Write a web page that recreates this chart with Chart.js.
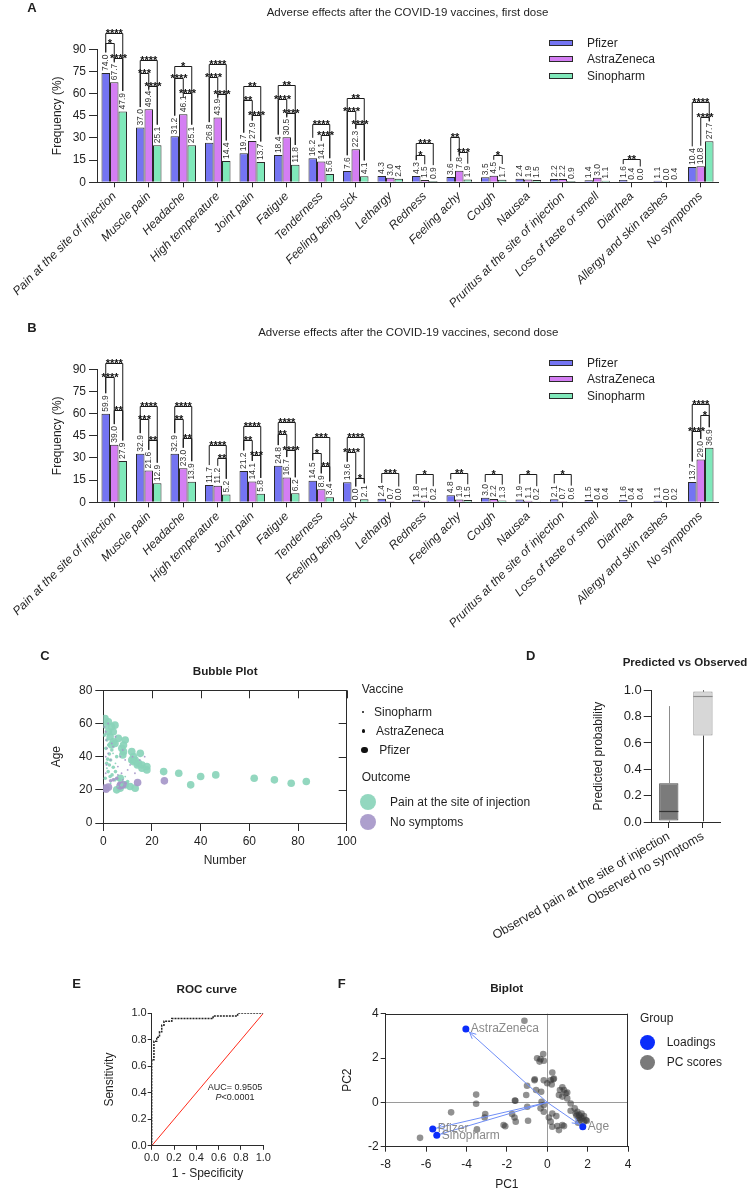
<!DOCTYPE html>
<html lang="en">
<head>
<meta charset="utf-8">
<title>Adverse effects after COVID-19 vaccines</title>
<script src="https://cdn.jsdelivr.net/npm/chart.js"></script>
<style>
    body { margin: 0; width: 750px; height: 1192px; position: relative; overflow: hidden; background: #fff;
           font-family: "Liberation Sans", Arial, sans-serif; color: #1f1f1f; }
    canvas { position: absolute; }
    .txt { position: absolute; white-space: nowrap; line-height: 1; }
    .mark { position: absolute; }
</style>
</head>
<body>
<script>
    // ---- data ----
    var symptoms = ['Pain at the site of injection', 'Muscle pain', 'Headache', 'High temperature', 'Joint pain',
        'Fatigue', 'Tenderness', 'Feeling being sick', 'Lethargy', 'Redness', 'Feeling achy', 'Cough', 'Nausea',
        'Pruritus at the site of injection', 'Loss of taste or smell', 'Diarrhea', 'Allergy and skin rashes', 'No symptoms'];
    var vaccines = ['Pfizer', 'AstraZeneca', 'Sinopharm'];

    var firstPfizer = [74.0, 37.0, 31.2, 26.8, 19.7, 18.4, 16.2, 7.6, 4.3, 4.3, 3.6, 3.5, 2.4, 2.2, 1.4, 1.6, 1.1, 10.4];
    var firstAstra  = [67.7, 49.4, 46.1, 43.9, 27.9, 30.5, 14.1, 22.3, 3.0, 1.5, 7.8, 4.5, 1.9, 2.2, 3.0, 0.4, 0.0, 10.8];
    var firstSino   = [47.9, 25.1, 25.1, 14.4, 13.7, 11.8, 5.6, 4.1, 2.4, 0.9, 1.9, 1.7, 1.5, 0.9, 1.1, 0.0, 0.4, 27.7];

    var secondPfizer = [59.9, 32.9, 32.9, 11.7, 21.2, 24.8, 14.5, 13.6, 2.4, 1.8, 4.8, 3.0, 1.9, 2.1, 1.5, 1.6, 1.1, 13.7];
    var secondAstra  = [39.0, 21.6, 23.0, 11.2, 14.1, 16.7, 8.9, 0.0, 0.7, 1.1, 1.9, 2.2, 1.1, 0.7, 0.4, 0.4, 0.0, 29.0];
    var secondSino   = [27.9, 12.9, 13.9, 5.2, 5.8, 6.2, 3.4, 2.1, 0.0, 0.2, 1.5, 1.3, 0.2, 0.6, 0.4, 0.4, 0.2, 36.9];

    // significance: [symptom index, from vaccine, to vaccine, height (%), stars]
    var firstStars = [
        [0, 0, 2, 101, '****'], [0, 0, 1, 94, '*'], [0, 1, 2, 84, '****'],
        [1, 0, 2, 82.6, '****'], [1, 0, 1, 74, '***'], [1, 1, 2, 65, '****'],
        [2, 0, 2, 78.6, '*'], [2, 0, 1, 70.3, '****'], [2, 1, 2, 60.1, '****'],
        [3, 0, 2, 80, '****'], [3, 0, 1, 71, '****'], [3, 1, 2, 59.7, '****'],
        [4, 0, 2, 65, '**'], [4, 0, 1, 55.6, '**'], [4, 1, 2, 45.5, '****'],
        [5, 0, 2, 65.7, '**'], [5, 0, 1, 56.7, '****'], [5, 1, 2, 46.6, '****'],
        [6, 0, 2, 39.4, '****'], [6, 1, 2, 32, '****'],
        [7, 0, 2, 57.2, '**'], [7, 0, 1, 48.2, '****'], [7, 1, 2, 39.4, '****'],
        [9, 0, 2, 26.3, '***'], [9, 0, 1, 18.4, '*'],
        [10, 0, 1, 30.4, '**'], [10, 1, 2, 20.7, '***'],
        [11, 1, 2, 18.4, '*'],
        [15, 0, 2, 15.5, '**'],
        [17, 0, 2, 54.5, '****'], [17, 1, 2, 44.3, '****']
    ];
    var secondStars = [
        [0, 0, 2, 94.2, '****'], [0, 0, 1, 84.5, '****'], [0, 1, 2, 62.6, '**'],
        [1, 0, 2, 65.3, '****'], [1, 0, 1, 56.3, '***'], [1, 1, 2, 42.4, '**'],
        [2, 0, 2, 65.3, '****'], [2, 0, 1, 56.3, '**'], [2, 1, 2, 43.5, '**'],
        [3, 0, 2, 39, '****'], [3, 1, 2, 30, '**'],
        [4, 0, 2, 51.4, '****'], [4, 0, 1, 42.4, '**'], [4, 1, 2, 32.2, '***'],
        [5, 0, 2, 54.5, '****'], [5, 0, 1, 46.4, '**'], [5, 1, 2, 35.6, '****'],
        [6, 0, 2, 44, '***'], [6, 0, 1, 33.4, '*'], [6, 1, 2, 24.3, '**'],
        [7, 0, 2, 44, '****'], [7, 0, 1, 34, '****'], [7, 1, 2, 16.5, '*'],
        [8, 0, 2, 19.8, '***'], [9, 0, 2, 19, '*'], [10, 0, 2, 19.8, '**'], [11, 0, 2, 19, '*'],
        [12, 0, 2, 19, '*'], [13, 0, 2, 19, '*'],
        [17, 0, 2, 66.7, '****'], [17, 1, 2, 59.3, '*'], [17, 0, 1, 48, '****']
    ];

    // bubble plot: [number, age]
    var bubblePfizerPain = [[0.7, 63], [2.1, 61], [1.1, 59], [3.4, 58], [4.8, 59], [2.1, 55], [4.1, 55], [2.8, 52],
        [6.2, 51], [4.1, 49], [3.4, 47], [4.8, 48], [9, 50], [8.3, 47], [7.6, 45], [8.3, 43], [8, 41], [11.7, 43],
        [12.4, 40], [11.7, 38], [13.1, 38], [15.2, 42], [14.5, 36], [15.9, 35], [15.9, 33], [17.9, 34], [17.9, 32],
        [24.8, 31], [31, 30], [35.9, 23], [40, 28], [46.2, 29], [62, 27], [70.3, 26], [77.2, 24], [83.4, 25],
        [11, 22], [13.1, 21], [5.5, 20], [6.9, 21], [9, 23], [7, 27], [12.4, 37], [14, 35]];
    var bubbleAstraPain = [[1.1, 45], [2.5, 41.6], [3, 38], [1.4, 36], [4.1, 33.6], [2, 31], [4.8, 26], [6.6, 26],
        [2.8, 28], [1.5, 50], [0.5, 53], [3.5, 44], [5.5, 40], [1.8, 38.5], [2.5, 35], [5, 31], [3.6, 29], [7.5, 23],
        [8.8, 24], [10, 25], [0.8, 27], [2.2, 47]];
    var bubbleSinoPain = [[3, 24], [6, 22], [9, 28], [1.5, 33], [5, 36], [4, 42]];
    var bubblePfizerNone = [[1.1, 20.4], [2.1, 21.6], [6.9, 22.4], [8, 23], [14.1, 24.4], [25.1, 25.4], [0.5, 21]];
    var bubbleAstraNone = [[4.1, 26], [5.5, 27], [3, 25.5], [6.5, 24], [9, 24]];
    var bubbleSinoNone = [[1, 55], [1.2, 50], [1.5, 45], [1, 40], [1.3, 35], [1, 30], [2, 42], [3, 38], [4, 46],
        [5, 52], [6, 34], [7, 40], [8, 44], [9, 38], [10, 32], [11, 35], [12, 40], [13, 30], [15, 38], [17, 40],
        [0.5, 58], [2, 60], [3.5, 48], [6, 29], [7.5, 30], [8, 26]];

    // box plot (predicted probability)
    var boxGroups = ['Observed pain at the site of injection', 'Observed no symptoms'];
    var boxMin = [0.0, 0.005];
    var boxQ1 = [0.012, 0.656];
    var boxMedian = [0.085, 0.957];
    var boxQ3 = [0.295, 0.99];
    var boxMax = [0.88, 1.0];

    // ROC curve
    var rocFpr = [0, 0, 0.02, 0.02, 0.045, 0.045, 0.07, 0.07, 0.09, 0.09, 0.11, 0.11, 0.18, 0.18, 0.55, 0.55, 0.77, 0.77, 1];
    var rocTpr = [0, 0.65, 0.65, 0.79, 0.79, 0.82, 0.82, 0.86, 0.86, 0.91, 0.91, 0.94, 0.94, 0.96, 0.96, 0.98, 0.98, 1, 1];
    var chanceLine = [0, 1];

    // biplot
    var loadingNames = ['AstraZeneca', 'Pfizer', 'Sinopharm', 'Age'];
    var loadingPC1 = [-4.03, -5.67, -5.47, 1.76];
    var loadingPC2 = [3.31, -1.2, -1.48, -1.1];
    var pcScores = [[-6.3, -1.6], [-4.76, -0.45], [-3.52, 0.35], [-3.52, -0.06], [-3.07, -0.53], [-3.1, -0.68],
        [-3.48, -1.22], [-2.16, -1.02], [-2.08, -1.08], [-1.74, -0.53], [-1.62, -0.68], [-1.56, -0.87], [-1.6, 0.08],
        [-0.95, -0.83], [-1.04, 0.33], [-1.0, 0.75], [-0.99, -0.2], [-0.63, 1.0], [-0.55, 0.56], [-0.3, 0.48],
        [-0.5, 1.99], [-0.33, 1.95], [-0.2, 2.18], [-0.38, 1.84], [-0.17, 1.88], [-0.28, 0.03], [-0.17, -0.12],
        [-0.33, -0.27], [-0.17, -0.42], [0.17, -0.87], [0.08, -0.68], [0.25, -0.5], [0.45, -0.62], [0.17, 1.0],
        [0.3, 1.04], [0.25, 1.35], [-0.17, 1.0], [0.0, 0.86], [0.22, 0.81], [0.5, -1.07], [0.58, -1.25], [0.83, -1.07],
        [0.63, 0.56], [0.75, 0.68], [0.58, 0.33], [0.75, 0.26], [0.91, 0.41], [0.99, 0.18], [1.16, -0.05], [0.99, 0.44],
        [0.83, 0.56], [1.16, -0.38], [1.36, -0.27], [1.41, -0.5], [1.49, -0.42], [1.58, -0.57], [1.66, -0.65],
        [1.74, -0.72], [1.82, -0.62], [1.62, -0.8], [1.82, -0.87], [1.91, -0.8], [1.53, -0.92], [1.96, -0.83],
        [0.75, -1.02], [0.25, -1.1], [-1.13, 3.68], [-0.62, 1.04], [0.33, 1.08], [-1.58, 0.07], [1.7, -0.5],
        [1.55, -0.7], [1.45, -0.6]];

    // ---- styling ----
    var FONT = '"Liberation Sans", Arial, sans-serif';
    var AXIS = '#2b2b2b';
    var vaccineColors = ['#7474f2', '#d47ef3', '#7fe8ba'];
    var mint = 'rgba(138, 212, 186, 0.92)';
    var lilac = 'rgba(166, 151, 201, 0.92)';
    var LABEL_FONT = '8.5px ' + FONT;

    Chart.defaults.font.family = FONT;
    Chart.defaults.color = '#1f1f1f';
    Chart.defaults.animation = false;
    Chart.defaults.events = [];
    Chart.defaults.plugins.legend.display = false;
    Chart.defaults.plugins.tooltip.enabled = false;

    function makeCanvas(left, top, w, h) {
        var c = document.createElement('canvas');
        c.width = w; c.height = h;
        c.style.left = left + 'px'; c.style.top = top + 'px';
        c.style.width = w + 'px'; c.style.height = h + 'px';
        document.body.appendChild(c);
        return c;
    }
    function fixW(w) { return function (s) { s.width = w; s.paddingTop = 0; s.paddingBottom = 0; }; }
    function fixH(h) { return function (s) { s.height = h; s.paddingLeft = 0; s.paddingRight = 0; }; }
    function put(html, x, y, css, centered) {
        var d = document.createElement('div');
        d.className = 'txt';
        d.innerHTML = html;
        d.style.cssText = 'left:' + x + 'px;top:' + y + 'px;' + (css || '') +
            ';transform:' + (centered ? 'translate(-50%,-50%)' : 'translate(0,-50%)');
        document.body.appendChild(d);
    }
    function dot(cx, cy, r, color) {
        var d = document.createElement('div');
        d.className = 'mark';
        d.style.cssText = 'left:' + (cx - r) + 'px;top:' + (cy - r) + 'px;width:' + (2 * r) + 'px;height:' + (2 * r) +
            'px;border-radius:50%;background:' + color;
        document.body.appendChild(d);
    }

    // ---- panels A and B ----
    function valueLabels(values) {
        return {
            id: 'valueLabels',
            afterDatasetsDraw: function (chart) {
                var ctx = chart.ctx;
                ctx.save();
                ctx.font = LABEL_FONT;
                ctx.fillStyle = '#333';
                ctx.textAlign = 'left';
                ctx.textBaseline = 'middle';
                values.forEach(function (vals, k) {
                    chart.getDatasetMeta(k).data.forEach(function (bar, i) {
                        ctx.save();
                        ctx.translate(bar.x, bar.y - 2);
                        ctx.rotate(-Math.PI / 2);
                        ctx.fillText(vals[i].toFixed(1), 0, 0);
                        ctx.restore();
                    });
                });
                ctx.restore();
            }
        };
    }

    function sigBrackets(list, values) {
        return {
            id: 'sigBrackets',
            afterDatasetsDraw: function (chart) {
                var ctx = chart.ctx, ys = chart.scales.y;
                ctx.save();
                ctx.font = LABEL_FONT;
                function legEnd(k, c) {
                    var bar = chart.getDatasetMeta(k).data[c];
                    return bar.y - 2 - ctx.measureText(values[k][c].toFixed(1)).width - 2;
                }
                var drawn = list.map(function (b) {
                    var c = b[0];
                    var xa = chart.getDatasetMeta(b[1]).data[c].x;
                    var xb = chart.getDatasetMeta(b[2]).data[c].x;
                    var py = Math.round(ys.getPixelForValue(b[3])) + 0.5;
                    return { xa: xa, xb: xb, py: py, ya: Math.max(py + 4, legEnd(b[1], c)), yb: Math.max(py + 4, legEnd(b[2], c)), s: b[4] };
                });
                ctx.strokeStyle = '#1a1a1a';
                ctx.lineWidth = 1;
                drawn.forEach(function (d) {
                    ctx.beginPath();
                    ctx.moveTo(d.xa, d.ya);
                    ctx.lineTo(d.xa, d.py);
                    ctx.lineTo(d.xb, d.py);
                    ctx.lineTo(d.xb, d.yb);
                    ctx.stroke();
                });
                ctx.font = 'bold 11px ' + FONT;
                ctx.fillStyle = '#111';
                ctx.textAlign = 'center';
                ctx.textBaseline = 'alphabetic';
                drawn.forEach(function (d) {
                    ctx.fillText(d.s, (d.xa + d.xb) / 2, d.py + 3.5);
                });
                ctx.restore();
            }
        };
    }

    function doseChart(top, values, stars) {
        return new Chart(makeCanvas(0, top, 750, 322), {
            type: 'bar',
            data: {
                labels: symptoms,
                datasets: vaccines.map(function (v, k) {
                    return {
                        label: v, data: values[k], backgroundColor: vaccineColors[k], borderColor: '#2a2a2a',
                        borderWidth: 1, categoryPercentage: 0.74, barPercentage: 1
                    };
                })
            },
            options: {
                responsive: false,
                layout: { padding: { left: 50, top: 49.3, right: 32, bottom: 9.7 } },
                scales: {
                    x: {
                        grid: { drawOnChartArea: false, offset: false, tickLength: 5, color: AXIS },
                        border: { color: AXIS },
                        ticks: { autoSkip: false, minRotation: 45, maxRotation: 45, padding: 2, font: { size: 12, style: 'italic' } },
                        afterFit: fixH(130)
                    },
                    y: {
                        min: 0, max: 90,
                        grid: { drawOnChartArea: false, tickLength: 8, color: AXIS },
                        border: { color: AXIS },
                        ticks: { stepSize: 15, padding: 3, font: { size: 12 } },
                        title: { display: true, text: 'Frequency (%)', font: { size: 12 }, padding: 0 },
                        afterFit: fixW(47)
                    }
                }
            },
            plugins: [valueLabels(values), sigBrackets(stars, values)]
        });
    }

    doseChart(0, [firstPfizer, firstAstra, firstSino], firstStars);
    doseChart(320, [secondPfizer, secondAstra, secondSino], secondStars);

    // ---- panel C: bubble plot ----
    function boxFrame(inward) {
        return {
            id: 'boxFrame',
            afterDraw: function (chart) {
                var a = chart.chartArea, ctx = chart.ctx, xs = chart.scales.x, ys = chart.scales.y;
                ctx.save();
                ctx.strokeStyle = AXIS;
                ctx.lineWidth = 1;
                ctx.beginPath();
                ctx.moveTo(a.left, Math.round(a.top) + 0.5);
                ctx.lineTo(a.right, Math.round(a.top) + 0.5);
                ctx.moveTo(Math.round(a.right) - 0.5, a.top);
                ctx.lineTo(Math.round(a.right) - 0.5, a.bottom);
                if (inward) {
                    xs.ticks.forEach(function (t) {
                        var px = Math.round(xs.getPixelForValue(t.value)) + 0.5;
                        ctx.moveTo(px, a.top);
                        ctx.lineTo(px, a.top + 8);
                    });
                    ys.ticks.forEach(function (t) {
                        var py = Math.round(ys.getPixelForValue(t.value)) + 0.5;
                        ctx.moveTo(a.right, py);
                        ctx.lineTo(a.right - 8, py);
                    });
                }
                ctx.stroke();
                ctx.restore();
            }
        };
    }

    function pts(list) { return list.map(function (p) { return { x: p[0], y: p[1] }; }); }

    new Chart(makeCanvas(0, 640, 360, 228), {
        type: 'scatter',
        data: {
            datasets: [
                { data: pts(bubbleSinoNone), backgroundColor: lilac, pointRadius: 0.9, borderWidth: 0 },
                { data: pts(bubbleSinoPain), backgroundColor: mint, pointRadius: 0.9, borderWidth: 0 },
                { data: pts(bubbleAstraNone), backgroundColor: lilac, pointRadius: 1.8, borderWidth: 0 },
                { data: pts(bubbleAstraPain), backgroundColor: mint, pointRadius: 1.8, borderWidth: 0 },
                { data: pts(bubblePfizerNone), backgroundColor: lilac, pointRadius: 3.8, borderWidth: 0 },
                { data: pts(bubblePfizerPain), backgroundColor: mint, pointRadius: 3.8, borderWidth: 0 }
            ]
        },
        options: {
            responsive: false,
            layout: { padding: { left: 49.8, top: 50.3, right: 13.3, bottom: 0 } },
            scales: {
                x: {
                    type: 'linear', min: 0, max: 100,
                    grid: { drawOnChartArea: false, tickLength: 8, color: AXIS },
                    border: { color: AXIS },
                    ticks: { stepSize: 20, padding: 3.5, font: { size: 12 } },
                    title: { display: true, text: 'Number', font: { size: 12 }, padding: 0 },
                    afterFit: fixH(45)
                },
                y: {
                    min: 0, max: 80,
                    grid: { drawOnChartArea: false, tickLength: 8, color: AXIS },
                    border: { color: AXIS },
                    ticks: { stepSize: 10, padding: 3, font: { size: 12 } },
                    title: { display: true, text: 'Age', font: { size: 12 }, padding: 0 },
                    afterFit: fixW(53.5)
                }
            }
        },
        plugins: [boxFrame(true)]
    });

    // ---- panel D: box plot ----
    var boxFill = ['#7b7b7b', '#d7d7d7'];
    var boxEdge = ['#4a4a4a', '#8c8c8c'];
    var whiskerColor = ['#8c8c8c', '#3a3a3a'];
    var medianColor = ['#333', '#8c8c8c'];

    var whiskers = {
        id: 'whiskers',
        afterDatasetsDraw: function (chart) {
            var ys = chart.scales.y, ctx = chart.ctx;
            chart.getDatasetMeta(0).data.forEach(function (bar, i) {
                var x = Math.round(bar.x) + 0.5;
                ctx.save();
                ctx.lineWidth = 1;
                ctx.strokeStyle = whiskerColor[i];
                ctx.beginPath();
                ctx.moveTo(x, ys.getPixelForValue(boxMax[i]));
                ctx.lineTo(x, ys.getPixelForValue(boxQ3[i]));
                ctx.moveTo(x, ys.getPixelForValue(boxQ1[i]));
                ctx.lineTo(x, ys.getPixelForValue(boxMin[i]));
                ctx.stroke();
                var m = Math.round(ys.getPixelForValue(boxMedian[i])) + 0.5;
                ctx.strokeStyle = medianColor[i];
                ctx.lineWidth = 1.2;
                ctx.beginPath();
                ctx.moveTo(bar.x - bar.width / 2, m);
                ctx.lineTo(bar.x + bar.width / 2, m);
                ctx.stroke();
                ctx.restore();
            });
        }
    };

    new Chart(makeCanvas(470, 640, 280, 320), {
        type: 'bar',
        data: {
            labels: boxGroups,
            datasets: [{
                data: boxQ1.map(function (q, i) { return [q, boxQ3[i]]; }),
                backgroundColor: boxFill, borderColor: boxEdge, borderWidth: 1, borderSkipped: false,
                categoryPercentage: 1, barPercentage: 0.565
            }]
        },
        options: {
            responsive: false,
            layout: { padding: { left: 121.1, top: 50.3, right: 30, bottom: 0 } },
            scales: {
                x: {
                    grid: { drawOnChartArea: false, offset: false, tickLength: 6, color: AXIS },
                    border: { color: AXIS },
                    ticks: { autoSkip: false, minRotation: 30, maxRotation: 30, padding: 1, font: { size: 12.5 } },
                    afterFit: fixH(138)
                },
                y: {
                    min: 0, max: 1,
                    grid: { drawOnChartArea: false, tickLength: 8, color: AXIS },
                    border: { color: AXIS },
                    ticks: { stepSize: 0.2, padding: 2, font: { size: 13 }, callback: function (v) { return v.toFixed(1); } },
                    title: { display: true, text: 'Predicted probability', font: { size: 12 }, padding: 0 },
                    afterFit: fixW(60.6)
                }
            }
        },
        plugins: [whiskers]
    });

    // ---- panel E: ROC curve ----
    new Chart(makeCanvas(60, 980, 230, 212), {
        type: 'scatter',
        data: {
            datasets: [
                {
                    data: rocFpr.map(function (x, i) { return { x: x, y: rocTpr[i] }; }),
                    showLine: true, borderColor: '#222', borderWidth: 1.5, borderDash: [2, 1], pointRadius: 0
                },
                {
                    data: chanceLine.map(function (v) { return { x: v, y: v }; }),
                    showLine: true, borderColor: '#ff2a1a', borderWidth: 1, pointRadius: 0
                }
            ]
        },
        options: {
            responsive: false,
            layout: { padding: { left: 42.8, top: 33.3, right: 26.7, bottom: 10.8 } },
            scales: {
                x: {
                    type: 'linear', min: 0, max: 1,
                    grid: { drawOnChartArea: false, tickLength: 4, color: AXIS },
                    border: { color: AXIS },
                    ticks: { stepSize: 0.2, padding: 2, font: { size: 11 }, callback: function (v) { return v.toFixed(1); } },
                    title: { display: true, text: '1 - Specificity', font: { size: 12 }, padding: 0 },
                    afterFit: fixH(35.4)
                },
                y: {
                    min: 0, max: 1,
                    grid: { drawOnChartArea: false, tickLength: 4, color: AXIS },
                    border: { color: AXIS },
                    ticks: { stepSize: 0.2, padding: 1, font: { size: 11 }, callback: function (v) { return v.toFixed(1); } },
                    title: { display: true, text: 'Sensitivity', font: { size: 12 }, padding: 0 },
                    afterFit: fixW(48.9)
                }
            }
        }
    });

    // ---- panel F: biplot ----
    var loadingColor = '#0b2dfb';
    var arrowColor = '#6f8ef7';
    var loadingArrows = {
        id: 'loadingArrows',
        afterDatasetsDraw: function (chart) {
            var xs = chart.scales.x, ys = chart.scales.y, ctx = chart.ctx;
            var ox = xs.getPixelForValue(0), oy = ys.getPixelForValue(0);
            ctx.save();
            loadingNames.forEach(function (name, i) {
                var px = xs.getPixelForValue(loadingPC1[i]), py = ys.getPixelForValue(loadingPC2[i]);
                var ang = Math.atan2(py - oy, px - ox);
                var tx = px - 5 * Math.cos(ang), ty = py - 5 * Math.sin(ang);
                ctx.strokeStyle = arrowColor;
                ctx.lineWidth = 1;
                ctx.beginPath();
                ctx.moveTo(tx - 7 * Math.cos(ang - 0.45), ty - 7 * Math.sin(ang - 0.45));
                ctx.lineTo(tx, ty);
                ctx.lineTo(tx - 7 * Math.cos(ang + 0.45), ty - 7 * Math.sin(ang + 0.45));
                ctx.stroke();
                ctx.fillStyle = '#8a8a8a';
                ctx.font = '12px ' + FONT;
                ctx.textAlign = 'left';
                ctx.textBaseline = 'middle';
                ctx.fillText(name, px + 5, py + (name === 'Sinopharm' ? 1 : 0));
            });
            ctx.restore();
        }
    };

    new Chart(makeCanvas(330, 1000, 420, 192), {
        type: 'scatter',
        data: {
            datasets: [
                { data: loadingPC1.map(function (x, i) { return { x: x, y: loadingPC2[i] }; }), backgroundColor: loadingColor, pointRadius: 3.5, borderWidth: 0 }
            ].concat(loadingPC1.map(function (x, i) {
                return { data: [{ x: 0, y: 0 }, { x: x, y: loadingPC2[i] }], showLine: true, borderColor: arrowColor, borderWidth: 1, pointRadius: 0 };
            })).concat([
                { data: pts(pcScores), backgroundColor: 'rgba(55, 55, 55, 0.55)', pointRadius: 3.3, borderWidth: 0 }
            ])
        },
        options: {
            responsive: false,
            layout: { padding: { left: 10.8, top: 13.7, right: 122, bottom: 0 } },
            scales: {
                x: {
                    type: 'linear', min: -8, max: 4,
                    grid: { color: function (c) { return c.tick && c.tick.value === 0 ? '#9a9a9a' : 'rgba(0,0,0,0)'; }, tickColor: AXIS, tickLength: 5 },
                    border: { color: AXIS },
                    ticks: { stepSize: 2, padding: 6, font: { size: 12 } },
                    title: { display: true, text: 'PC1', font: { size: 12 }, padding: 0 },
                    afterFit: fixH(45.3)
                },
                y: {
                    min: -2, max: 4,
                    grid: { color: function (c) { return c.tick && c.tick.value === 0 ? '#9a9a9a' : 'rgba(0,0,0,0)'; }, tickColor: AXIS, tickLength: 5 },
                    border: { color: AXIS },
                    ticks: { stepSize: 2, padding: 2, font: { size: 12 } },
                    title: { display: true, text: 'PC2', font: { size: 12 }, padding: 0 },
                    afterFit: fixW(44.9)
                }
            }
        },
        plugins: [boxFrame(false), loadingArrows]
    });

    // ---- text, titles and legends ----
    var letter = 'font-weight:bold;font-size:13px';
    put('A', 32, 7, letter, true);
    put('B', 32, 327, letter, true);
    put('C', 45, 655, letter, true);
    put('D', 530.7, 655, letter, true);
    put('E', 76.7, 983, letter, true);
    put('F', 341.7, 983, letter, true);

    put('Adverse effects after the COVID-19 vaccines, first dose', 407.5, 13, 'font-size:11.5px', true);
    put('Adverse effects after the COVID-19 vaccines, second dose', 408.3, 333, 'font-size:11.5px', true);
    put('Bubble Plot', 225.2, 671, 'font-weight:bold;font-size:11.7px', true);
    put('Predicted vs Observed', 622.7, 663.3, 'font-weight:bold;font-size:11.5px', false);
    put('ROC curve', 206.7, 989, 'font-weight:bold;font-size:11.7px', true);
    put('Biplot', 506.7, 988.3, 'font-weight:bold;font-size:11.7px', true);

    [0, 320].forEach(function (dy) {
        vaccines.forEach(function (v, k) {
            var cy = 42.7 + dy + k * 16.7;
            var b = document.createElement('div');
            b.className = 'mark';
            b.style.cssText = 'left:549px;top:' + (cy - 3) + 'px;width:22px;height:4px;border:1px solid #2a2a2a;background:' + vaccineColors[k];
            document.body.appendChild(b);
            put(v, 587, cy, 'font-size:12px', false);
        });
    });

    put('Vaccine', 361.7, 689, 'font-size:12px', false);
    dot(362.7, 711.7, 1, '#111'); put('Sinopharm', 374, 711.7, 'font-size:12px', false);
    dot(363.5, 731, 1.7, '#111'); put('AstraZeneca', 376, 731, 'font-size:12px', false);
    dot(364.5, 750, 3.4, '#111'); put('Pfizer', 379.3, 750, 'font-size:12px', false);
    put('Outcome', 361.7, 776.7, 'font-size:12px', false);
    dot(368.3, 801.7, 8, mint); put('Pain at the site of injection', 390, 801.7, 'font-size:12px', false);
    dot(368.3, 821.7, 8, lilac); put('No symptoms', 390, 821.7, 'font-size:12px', false);

    put('AUC= 0.9505', 235, 1086.7, 'font-size:9px', true);
    put('<i>P</i>&lt;0.0001', 235, 1097.3, 'font-size:9px', true);

    put('Group', 640, 1018.3, 'font-size:12px', false);
    dot(647.3, 1042.3, 7.5, loadingColor); put('Loadings', 666.7, 1042.3, 'font-size:12px', false);
    dot(647.3, 1062.3, 7.5, '#7a7a7a'); put('PC scores', 666.7, 1062.3, 'font-size:12px', false);
</script>
</body>
</html>
